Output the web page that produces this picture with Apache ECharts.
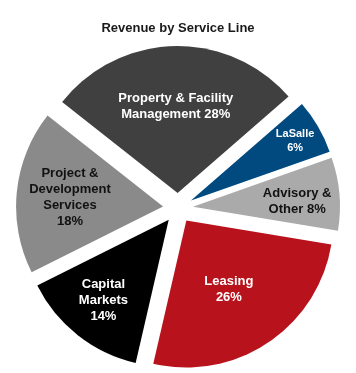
<!DOCTYPE html>
<html>
<head>
<meta charset="utf-8">
<script src="https://cdn.jsdelivr.net/npm/echarts@6/dist/echarts.min.js"></script>
<style>html,body{margin:0;padding:0;background:#fff}#c{width:356px;height:373px}</style>
</head>
<body>
<div id="c"></div>
<script>
var categories = ['LaSalle', 'Advisory & Other', 'Leasing', 'Capital Markets', 'Project & Development Services', 'Property & Facility Management'];
var values = [6, 8, 26, 14, 18, 28];
var labelTexts = ['LaSalle\n6%', 'Advisory &\nOther 8%', 'Leasing\n26%', 'Capital\nMarkets\n14%', 'Project &\nDevelopment\nServices\n18%', 'Property & Facility\nManagement 28%'];
var colors = ['#004A80', '#AAAAAA', '#B8131C', '#000000', '#8A8A8A', '#404040'];
var labelColors = ['#ffffff', '#111111', '#ffffff', '#ffffff', '#111111', '#ffffff'];
var labelSizes = [11, 13, 13, 13, 13, 13];
var labelShifts = [[38, -21], [28, 1], [0, 5], [-18, 21], [-17, -1], [0, -10]];

var data = categories.map(function (n, i) {
  return {
    name: n,
    value: values[i],
    selected: true,
    itemStyle: { color: colors[i] },
    label: {
      formatter: labelTexts[i],
      color: labelColors[i],
      fontSize: labelSizes[i],
      lineHeight: labelSizes[i] + 3
    }
  };
});

var chart = echarts.init(document.getElementById('c'));
chart.setOption({
  animation: false,
  title: {
    text: 'Revenue by Service Line',
    left: 'center',
    top: 17,
    textStyle: { fontFamily: 'Liberation Sans, Arial, sans-serif', fontSize: 13, fontWeight: 'bold', color: '#1a1a1a' }
  },
  series: [{
    type: 'pie',
    center: [178, 208],
    radius: [0, 147],
    startAngle: 41,
    clockwise: true,
    selectedMode: 'multiple',
    selectedOffset: 15,
    avoidLabelOverlap: false,
    label: {
      show: true,
      position: 'inside',
      fontFamily: 'Liberation Sans, Arial, sans-serif',
      fontWeight: 'bold',
      align: 'center'
    },
    labelLayout: function (p) {
      var s = labelShifts[p.dataIndex];
      return { dx: s[0], dy: s[1] };
    },
    labelLine: { show: false },
    emphasis: { disabled: true },
    itemStyle: { borderWidth: 0 },
    data: data
  }]
});
</script>
</body>
</html>
